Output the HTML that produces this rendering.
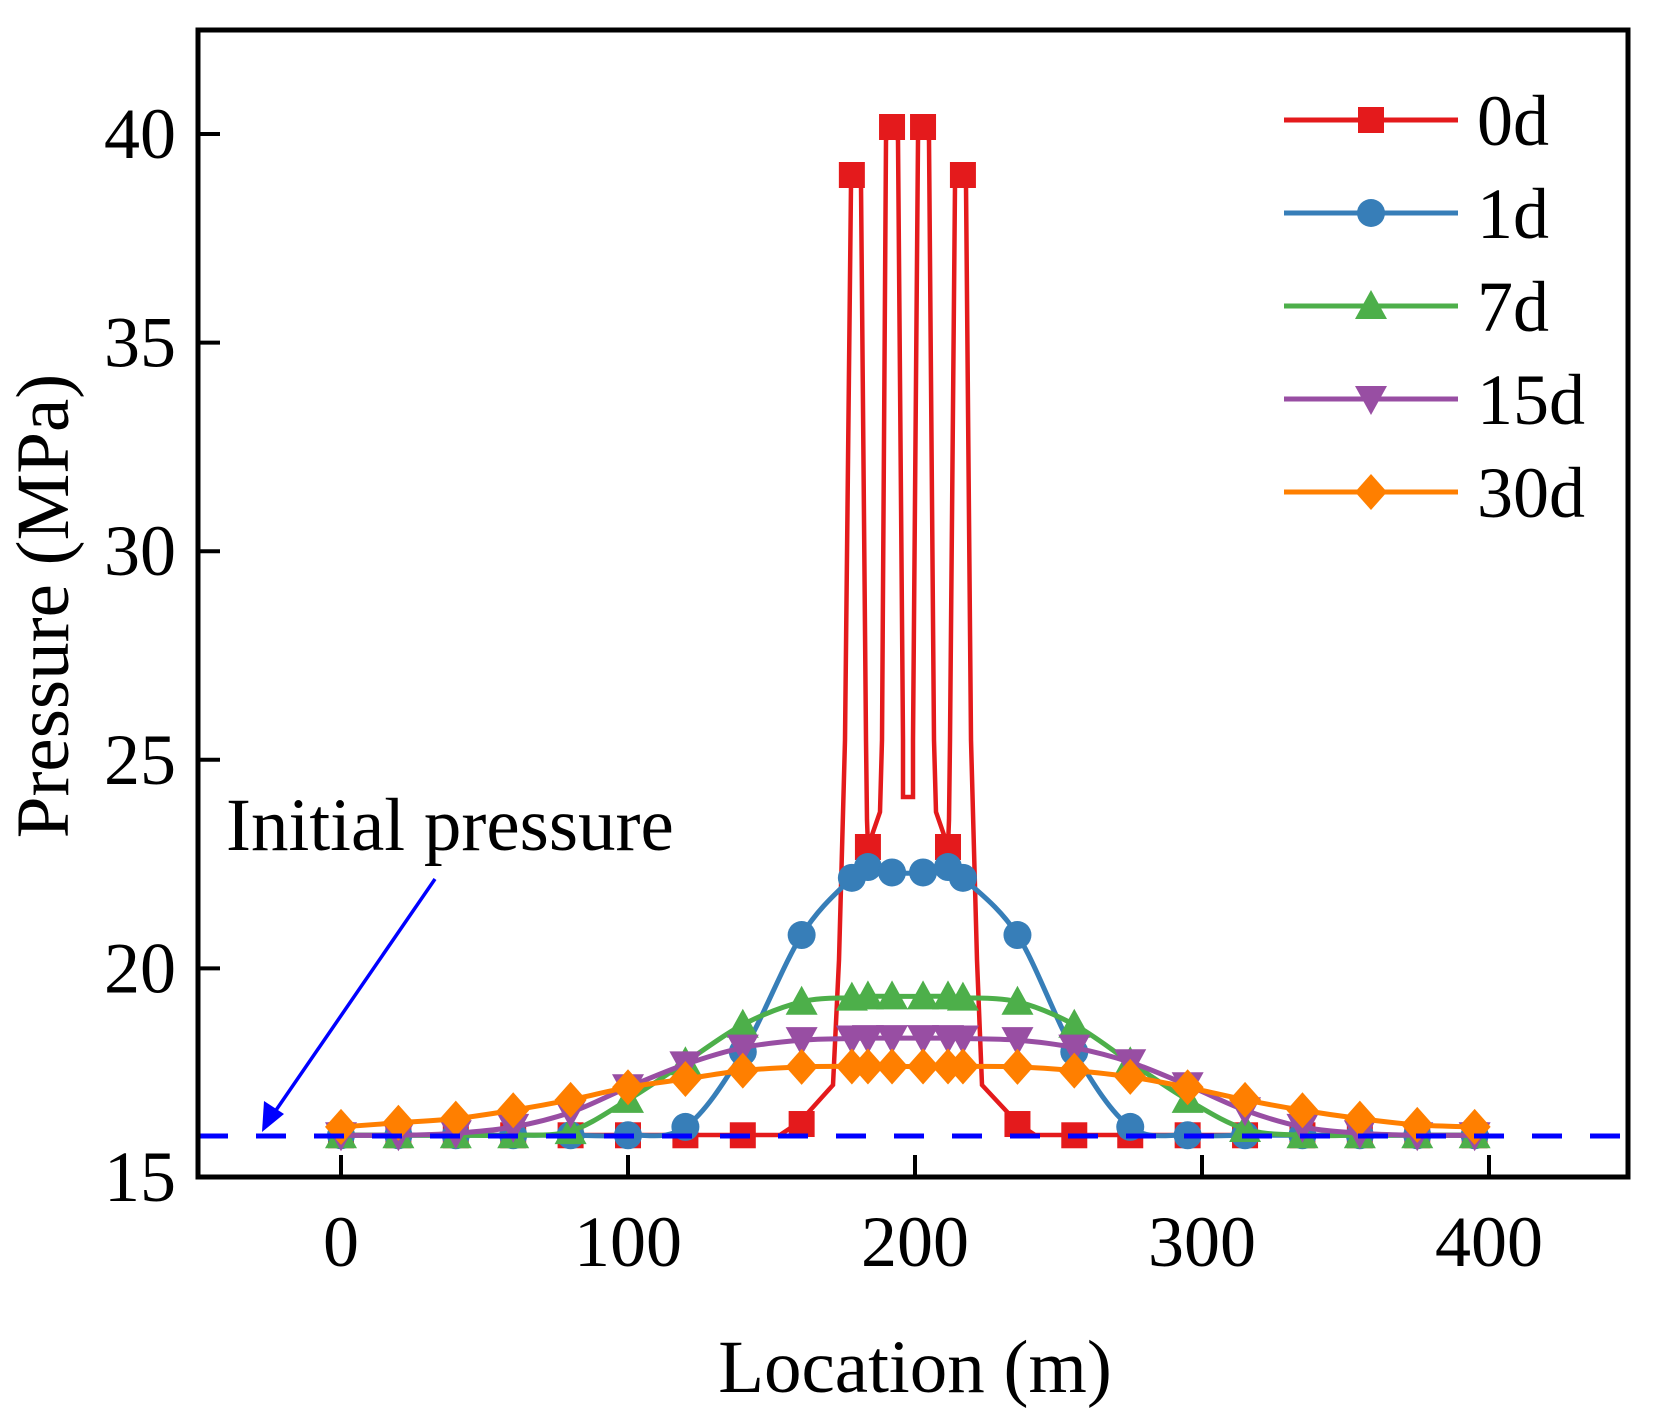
<!DOCTYPE html>
<html><head><meta charset="utf-8"><style>html,body{margin:0;padding:0;background:#fff}svg{display:block}</style></head>
<body>
<svg id="s" width="1660" height="1420" viewBox="0 0 1660 1420" xmlns="http://www.w3.org/2000/svg" font-family="'Liberation Serif', serif">
<rect width="1660" height="1420" fill="#fff"/>
<g id="series"></g>
<line x1="198" y1="1136" x2="1628" y2="1136" stroke="#0000ff" stroke-width="5" stroke-dasharray="30,28"/>
<path d="M198,30 H1628 V1177 H198 Z" fill="none" stroke="#000" stroke-width="5"/>
<g stroke="#000" stroke-width="4" id="ticks"></g>
<g font-size="72" fill="#000" id="labels"></g>
<text x="915" y="1392" font-size="75" text-anchor="middle">Location (m)</text>
<text transform="translate(68,606) rotate(-90)" font-size="75" text-anchor="middle">Pressure (MPa)</text>
<text x="226" y="850" font-size="75">Initial pressure</text>
<line x1="435" y1="879" x2="272" y2="1116" stroke="#0000ff" stroke-width="3.5"/>
<polygon points="262,1132 264,1101 284,1114" fill="#0000ff"/>
<g id="legend"></g>
</svg>
<script>
const NS="http://www.w3.org/2000/svg";
const X=x=>341+2.87*x, Y=p=>1177-(p-15)*41.72;
function el(t,a,parent){const e=document.createElementNS(NS,t);for(const k in a)e.setAttribute(k,a[k]);(parent||document.getElementById('series')).appendChild(e);return e;}
const xs=[0,20,40,60,80,100,120,140,160.5,178,183.6,192,202.8,211.5,216.7,235.7,255.5,275,295,315,335,355,375,395];
function cr(pts){let d=`M${pts[0][0]},${pts[0][1]}`;for(let i=0;i<pts.length-1;i++){const p0=pts[Math.max(i-1,0)],p1=pts[i],p2=pts[i+1],p3=pts[Math.min(i+2,pts.length-1)];const t=6;d+=` C${p1[0]+(p2[0]-p0[0])/t},${p1[1]+(p2[1]-p0[1])/t} ${p2[0]-(p3[0]-p1[0])/t},${p2[1]-(p3[1]-p1[1])/t} ${p2[0]},${p2[1]}`;}return d;}
function marker(type,x,y,c,g){
 if(type=='sq')el('rect',{x:x-13,y:y-13,width:26,height:26,fill:c},g);
 if(type=='ci')el('circle',{cx:x,cy:y,r:14,fill:c},g);
 if(type=='tu')el('polygon',{points:`${x-16},${y+13} ${x+16},${y+13} ${x},${y-16}`,fill:c},g);
 if(type=='td')el('polygon',{points:`${x-16},${y-13} ${x+16},${y-13} ${x},${y+16}`,fill:c},g);
 if(type=='di')el('polygon',{points:`${x},${y-18} ${x+16},${y} ${x},${y+18} ${x-16},${y}`,fill:c},g);
}
const C={r:'#e41a1c',b:'#377eb8',g:'#4daf4a',p:'#984ea3',o:'#ff7f00'};
const redPath="M341,1135 L780,1135 L798,1123 L806,1115 L833,1085 L839,960 L845,740 L851,185 L852,175 L861,185 L866,740 L867,820 L868,847 L872,835 L880,812 L882,740 L886,140 L892,127 L898,140 L903,740 L903,797 L913,797 L913,740 L918,140 L923,127 L929,140 L934,740 L936,812 L944,835 L948,847 L949,820 L950,740 L955,185 L963,175 L966,185 L971,740 L977,960 L982,1085 L1010,1115 L1017,1123 L1035,1135 L1489,1135";
el('path',{d:redPath,fill:'none',stroke:C.r,'stroke-width':4.5});
const red=[16,16,16,16,16,16,16,16,16.27,39.05,22.9,40.2,40.2,22.9,39.05,16.27,16,16,16,16,16,16,16,16];
const redY={178:175,183.6:847,192:127,202.8:127,211.5:847,216.7:175};
xs.forEach((x,i)=>{const y=redY[x]!==undefined?redY[x]:Y(red[i]);marker('sq',X(x),y,C.r);});
const series=[
 ['b','ci',[16,16,16,16,16,16,16.2,18.0,20.8,22.17,22.43,22.3,22.3,22.43,22.17,20.8,18.0,16.2,16,16,16,16,16,16]],
 ['g','tu',[16,16,16,16,16.1,16.85,17.75,18.65,19.2,19.3,19.33,19.33,19.33,19.33,19.3,19.2,18.65,17.75,16.85,16.15,16,16,16,16]],
 ['p','td',[16,16,16.05,16.2,16.55,17.15,17.7,18.1,18.28,18.32,18.33,18.33,18.33,18.33,18.32,18.28,18.1,17.75,17.2,16.6,16.2,16.05,16,16]],
 ['o','di',[16.2,16.3,16.4,16.6,16.85,17.15,17.35,17.55,17.64,17.65,17.65,17.65,17.65,17.65,17.65,17.64,17.55,17.4,17.15,16.85,16.6,16.4,16.25,16.2]]
];
series.forEach(([c,t,ps])=>{
 const pts=xs.map((x,i)=>[X(x),Y(ps[i])]);
 el('path',{d:cr(pts),fill:'none',stroke:C[c],'stroke-width':5});
 pts.forEach(p=>marker(t,p[0],p[1],C[c]));
});
const tk=document.getElementById('ticks'),lb=document.getElementById('labels');
[0,100,200,300,400].forEach(v=>{el('line',{x1:X(v),y1:1177,x2:X(v),y2:1155},tk);const t=el('text',{x:X(v),y:1266,'text-anchor':'middle'},lb);t.textContent=v;});
[15,20,25,30,35,40].forEach(v=>{el('line',{x1:198,y1:Y(v),x2:220,y2:Y(v)},tk);const t=el('text',{x:176,y:Y(v)+24,'text-anchor':'end'},lb);t.textContent=v;});
const lg=document.getElementById('legend');
[['r','sq','0d'],['b','ci','1d'],['g','tu','7d'],['p','td','15d'],['o','di','30d']].forEach(([c,t,n],i)=>{
 const y=120+i*93;
 el('line',{x1:1284,y1:y,x2:1458,y2:y,stroke:C[c],'stroke-width':5},lg);
 marker(t,1371,y,C[c],lg);
 const tx=el('text',{x:1477,y:y+25,'font-size':72},lg);tx.textContent=n;
});
</script>
</body></html>
